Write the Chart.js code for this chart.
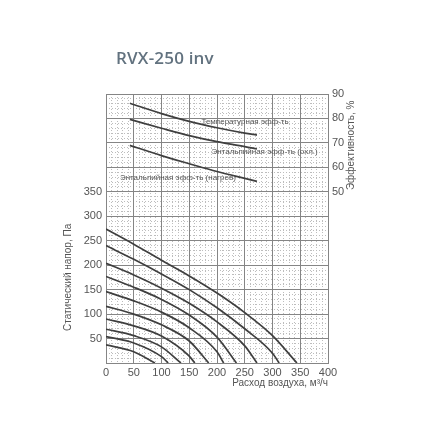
<!DOCTYPE html>
<html>
<head>
<meta charset="utf-8">
<script src="https://cdn.jsdelivr.net/npm/chart.js@4.4.1/dist/chart.umd.min.js"></script>
<style>
    html, body { margin: 0; padding: 0; background: #fff; }
    #wrap { position: relative; width: 440px; height: 440px; }
    #title {
        position: absolute; left: 116px; top: 48px;
        font: 600 17px "Open Sans", sans-serif; line-height: 20px;
        color: #62727f; letter-spacing: 0.2px;
    }
</style>
</head>
<body>
<div id="wrap">
    <canvas id="fanChart" width="440" height="440"></canvas>
    <div id="title">RVX-250 inv</div>
</div>
<script>
// fan curves, [airflow m3/h, static pressure Pa], top speed first
const pressureCurves = [
    [[0, 274], [50, 243], [100, 210], [150, 178], [200, 143], [250, 103], [300, 56], [344, 0]],
    [[0, 240], [50, 212], [100, 182], [150, 150], [200, 113], [250, 70], [300, 20], [312, 0]],
    [[0, 204], [50, 180], [100, 153], [150, 122], [200, 84], [250, 35], [272, 0]],
    [[0, 177], [50, 155], [100, 130], [150, 98], [200, 53], [235, 0]],
    [[0, 146], [50, 127], [100, 104], [150, 72], [200, 23], [212, 0]],
    [[0, 116], [50, 100], [100, 78], [150, 45], [185, 0]],
    [[0, 90], [50, 76], [100, 55], [150, 14], [160, 0]],
    [[0, 69], [50, 56], [100, 33], [135, 0]],
    [[0, 54], [50, 41], [100, 13], [112, 0]],
    [[0, 37], [50, 23], [88, 0]]
];

// efficiency curves, %
const effFlow = [43, 100, 150, 200, 250, 272];
const effTemp = [86.2, 82, 78.8, 76.2, 74, 73.2];
const effCool = [79.6, 76, 73, 70.5, 68.5, 67.5];
const effHeat = [69, 64.8, 61.5, 58.3, 55.5, 54.3];
const effLabels = ['Температурная эфф-ть', 'Энтальпийная эфф-ть (охл.)', 'Энтальпийная эфф-ть (нагрев)'];

const pressureTicksMax = 350;
const effTicksMin = 50;

const lineColor = '#3f3f3f';
const textColor = '#555';
const gridColor = '#858585';
const tickFont = { family: '"Liberation Sans", sans-serif', size: 11 };

function toPoints(xs, ys) {
    return xs.map((v, i) => ({ x: v, y: ys[i] }));
}

const datasets = pressureCurves.map(curve => ({
    data: curve.map(p => ({ x: p[0], y: p[1] })),
    yAxisID: 'y'
}));
[effTemp, effCool, effHeat].forEach(series => {
    datasets.push({ data: toPoints(effFlow, series), yAxisID: 'y2' });
});

// light dotted grid every 10 units, drawn under the main grid
function minorAxis(position, max) {
    return {
        type: 'linear', position: position, min: 0, max: max,
        ticks: { display: false, stepSize: 10 },
        grid: { color: '#bdbdbd', drawTicks: false, lineWidth: 1 },
        border: { display: false, dash: [1, 2] },
        afterFit: s => { if (position === 'left') s.width = 0; else s.height = 0; }
    };
}

// axis titles and curve captions
const captions = {
    id: 'captions',
    afterDraw(chart) {
        const { ctx, scales: { x, y, y2 } } = chart;
        ctx.save();
        ctx.fillStyle = textColor;
        ctx.font = '8px "Liberation Sans", sans-serif';
        ctx.textAlign = 'left';
        ctx.textBaseline = 'middle';
        const spots = [[172, 78.6], [190, 66.4], [25, 55.7]];
        effLabels.forEach((t, i) => {
            ctx.fillText(t, x.getPixelForValue(spots[i][0]), y2.getPixelForValue(spots[i][1]));
        });

        ctx.font = '10px "Liberation Sans", sans-serif';
        ctx.textAlign = 'center';
        const vertical = (text, px, py) => {
            ctx.save();
            ctx.translate(px, py);
            ctx.rotate(-Math.PI / 2);
            ctx.fillText(text, 0, 0);
            ctx.restore();
        };
        vertical('Статический напор, Па', 68, y.getPixelForValue(pressureTicksMax / 2));
        vertical('Эффективность, %', 351, y2.getPixelForValue(69));
        ctx.restore();
    }
};

new Chart(document.getElementById('fanChart'), {
    type: 'line',
    data: { datasets: datasets },
    options: {
        responsive: false,
        animation: false,
        layout: { padding: { top: 94, left: 66, right: 0, bottom: 51 } },
        elements: {
            line: { borderColor: lineColor, borderWidth: 1.7, cubicInterpolationMode: 'monotone', fill: false },
            point: { radius: 0 }
        },
        plugins: { legend: { display: false }, tooltip: { enabled: false } },
        scales: {
            xMinor: minorAxis('bottom', 400),
            yMinor: minorAxis('left', 550),
            x: {
                type: 'linear', position: 'bottom', min: 0, max: 400,
                ticks: { stepSize: 50, padding: 3, color: textColor, font: tickFont, maxRotation: 0, autoSkip: false },
                grid: { color: gridColor, drawTicks: false },
                border: { color: gridColor },
                title: {
                    display: true, text: 'Расход воздуха, м³/ч', align: 'end',
                    color: textColor, font: { family: '"Liberation Sans", sans-serif', size: 10 }, padding: 0
                },
                afterFit: s => { s.height = 26; }
            },
            y: {
                type: 'linear', position: 'left', min: 0, max: 550,
                ticks: {
                    stepSize: 50, padding: 4, color: textColor, font: tickFont, autoSkip: false,
                    callback: v => (v > 0 && v <= pressureTicksMax) ? v : ''
                },
                grid: { color: gridColor, drawTicks: false },
                border: { color: gridColor },
                afterFit: s => { s.width = 40; }
            },
            y2: {
                type: 'linear', position: 'right', min: -20, max: 90,
                ticks: {
                    stepSize: 10, padding: 4, color: textColor, font: tickFont, autoSkip: false,
                    callback: v => v >= effTicksMin ? v : ''
                },
                grid: { drawOnChartArea: false, drawTicks: false },
                border: { display: false },
                afterFit: s => { s.width = 112; }
            }
        }
    },
    plugins: [captions]
});
</script>
</body>
</html>
